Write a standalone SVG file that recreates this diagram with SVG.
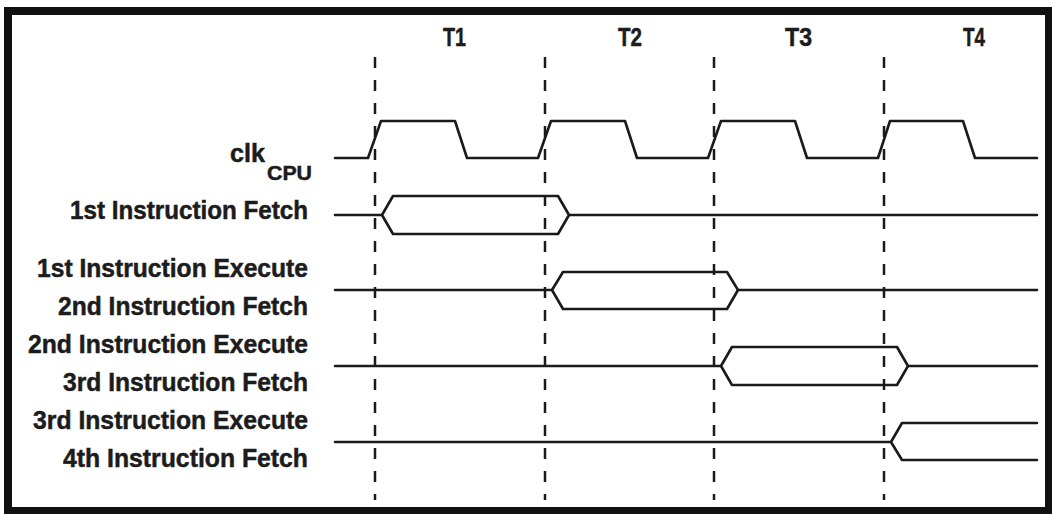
<svg xmlns="http://www.w3.org/2000/svg" width="1052" height="514" viewBox="0 0 1052 514">
<style>
  .frame { fill: #ffffff; stroke: #111111; stroke-width: 8; }
  .grid { stroke: #1a1a1a; stroke-width: 2.5; stroke-dasharray: 11 12; fill: none; }
  .wave { stroke: #1a1a1a; stroke-width: 2.6; fill: none; stroke-linejoin: round; stroke-linecap: round; }
  .lbl { font-family: "Liberation Sans Narrow", "Liberation Sans", Arial, sans-serif; font-weight: bold; font-size: 26px; fill: #1c1c1c; stroke: #1c1c1c; stroke-width: 0.5; }
  .t { font-family: "Liberation Sans Narrow", "Liberation Sans", Arial, sans-serif; font-weight: bold; font-size: 26px; fill: #1c1c1c; stroke: #1c1c1c; stroke-width: 0.5; text-anchor: middle; }
</style>
<rect class="frame" x="8" y="11" width="1041" height="500"/>

<g id="period-labels">
  <text class="t" x="454.5" y="46" textLength="23" lengthAdjust="spacingAndGlyphs">T1</text>
  <text class="t" x="630" y="46" textLength="24" lengthAdjust="spacingAndGlyphs">T2</text>
  <text class="t" x="798.5" y="46" textLength="27" lengthAdjust="spacingAndGlyphs">T3</text>
  <text class="t" x="974" y="46" textLength="22" lengthAdjust="spacingAndGlyphs">T4</text>
</g>

<g id="connectors">
  <line class="grid" x1="375" y1="57" x2="375" y2="500"/>
  <line class="grid" x1="545" y1="57" x2="545" y2="500"/>
  <line class="grid" x1="714" y1="57" x2="714" y2="500"/>
  <line class="grid" x1="884" y1="57" x2="884" y2="500"/>
</g>

<g id="clk">
  <text class="lbl" x="230" y="162" textLength="35" lengthAdjust="spacingAndGlyphs">clk</text>
  <text class="lbl" x="267" y="180" style="font-size:21px" textLength="45" lengthAdjust="spacingAndGlyphs">CPU</text>
  <path class="wave" d="M335,158 L368,158 L381,121 L455,121 L467,158 L538,158 L551,121 L625,121 L637,158 L708,158 L721,121 L795,121 L807,158 L878,158 L890,121 L963,121 L975,158 L1037,158"/>
</g>

<g id="row1">
  <text class="lbl" x="70" y="219" textLength="238" lengthAdjust="spacingAndGlyphs">1st Instruction Fetch</text>
  <path class="wave" d="M335,215 L382,215 M569,215 L1037,215"/>
  <path class="wave" d="M382,215 L393,196 L558,196 L569,215 L558,234 L393,234 Z"/>
</g>

<g id="row2">
  <text class="lbl" x="37" y="277" textLength="271" lengthAdjust="spacingAndGlyphs">1st Instruction Execute</text>
  <text class="lbl" x="58" y="315" textLength="250" lengthAdjust="spacingAndGlyphs">2nd Instruction Fetch</text>
  <path class="wave" d="M335,290 L552,290 M738,290 L1037,290"/>
  <path class="wave" d="M552,290 L563,272 L727,272 L738,290 L727,309 L563,309 Z"/>
</g>

<g id="row3">
  <text class="lbl" x="28" y="353" textLength="280" lengthAdjust="spacingAndGlyphs">2nd Instruction Execute</text>
  <text class="lbl" x="63" y="391" textLength="245" lengthAdjust="spacingAndGlyphs">3rd Instruction Fetch</text>
  <path class="wave" d="M335,366 L721,366 M908,366 L1037,366"/>
  <path class="wave" d="M721,366 L732,347 L897,347 L908,366 L897,385 L732,385 Z"/>
</g>

<g id="row4">
  <text class="lbl" x="33" y="429" textLength="275" lengthAdjust="spacingAndGlyphs">3rd Instruction Execute</text>
  <text class="lbl" x="63" y="467" textLength="245" lengthAdjust="spacingAndGlyphs">4th Instruction Fetch</text>
  <path class="wave" d="M335,442 L891,442 M1037,423 L902,423 L891,442 L902,460 L1037,460"/>
</g>
</svg>
